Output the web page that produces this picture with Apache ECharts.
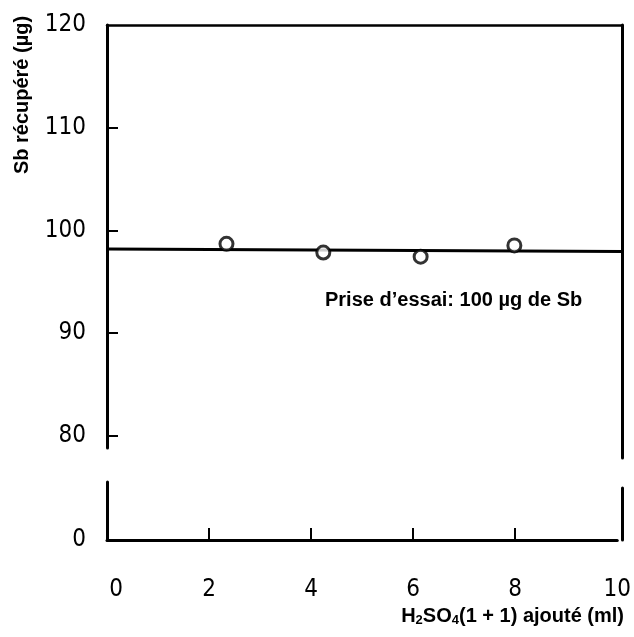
<!DOCTYPE html>
<html>
<head>
<meta charset="utf-8">
<script src="https://cdn.jsdelivr.net/npm/echarts@6/dist/echarts.min.js"></script>
<style>
html,body{margin:0;padding:0;background:#fff;}
#chart{width:634px;height:637px;}
</style>
</head>
<body>
<div id="chart"></div>
<script>
// Data
const acidAdded = [2.32, 4.2, 6.09, 7.91];          // H2SO4 (1+1) ajouté (ml)
const sbRecovered = [98.7, 97.85, 97.45, 98.55];    // Sb récupéré (µg)
const fitLineX = [0, 10];
const fitLineY = [98.2, 97.95];
const yTicksUpper = [80, 90, 100, 110, 120];
const yTicksLower = [0];
const xTicks = [0, 2, 4, 6, 8, 10];

const tickFont = "'Liberation Sans Narrow','DejaVu Sans Condensed','Liberation Sans',sans-serif";
const textFont = "'Liberation Sans',Arial,sans-serif";
const tickSize = 24;

const chart = echarts.init(document.getElementById('chart'), null, {renderer: 'canvas'});

const axisLineStyle = {color: '#000', width: 3};

const option = {
  backgroundColor: '#fff',
  animation: false,
  grid: [
    {left: 107, right: 12, top: 25, height: 423},
    {left: 107, right: 12, top: 482, height: 58},
    {left: 107, right: 12, top: 25, height: 433},
    {left: 107, right: 12, top: 488, height: 52}
  ],
  xAxis: [
    {gridIndex: 0, type: 'value', min: 0, max: 10, position: 'top',
     axisLine: {show: true, lineStyle: {color: '#000', width: 2.5}},
     axisTick: {show: false}, axisLabel: {show: false}, splitLine: {show: false}},
    {gridIndex: 1, type: 'value', min: 0, max: 10, interval: 2, position: 'bottom',
     axisLine: {show: true, lineStyle: axisLineStyle},
     axisTick: {show: true, inside: true, length: 12, lineStyle: {color: '#000', width: 2},
       customValues: [2, 4, 6, 8]},
     axisLabel: {show: true, margin: 38, color: '#000', fontSize: tickSize, fontFamily: tickFont,
       customValues: xTicks,
       formatter: v => v === 0 ? '{z|0}' : String(v),
       rich: {z: {fontSize: tickSize, fontFamily: tickFont, color: '#000', padding: [0, 0, 0, 18]}}},
     splitLine: {show: false}},
    {gridIndex: 2, type: 'value', min: 0, max: 10, show: false},
    {gridIndex: 3, type: 'value', min: 0, max: 10, show: false}
  ],
  yAxis: [
    {gridIndex: 0, type: 'value', min: 78.83, max: 120, position: 'left',
     axisLine: {show: true, onZero: false, lineStyle: axisLineStyle},
     axisTick: {show: true, inside: true, length: 11, lineStyle: {color: '#000', width: 2},
       customValues: [80, 90, 100, 110]},
     axisLabel: {show: true, margin: 21, color: '#000', fontSize: tickSize, fontFamily: tickFont,
       customValues: yTicksUpper},
     splitLine: {show: false}},
    {gridIndex: 1, type: 'value', min: 0, max: 1, position: 'left',
     axisLine: {show: true, onZero: false, lineStyle: axisLineStyle},
     axisTick: {show: false},
     axisLabel: {show: true, margin: 21, color: '#000', fontSize: tickSize, fontFamily: tickFont,
       customValues: yTicksLower},
     splitLine: {show: false}},
    {gridIndex: 2, type: 'value', min: 0, max: 1, position: 'right',
     axisLine: {show: true, onZero: false, lineStyle: axisLineStyle},
     axisTick: {show: false}, axisLabel: {show: false}, splitLine: {show: false}},
    {gridIndex: 3, type: 'value', min: 0, max: 1, position: 'right',
     axisLine: {show: true, onZero: false, lineStyle: axisLineStyle},
     axisTick: {show: false}, axisLabel: {show: false}, splitLine: {show: false}}
  ],
  series: [
    {type: 'line', xAxisIndex: 0, yAxisIndex: 0,
     data: fitLineX.map((x, i) => [x, fitLineY[i]]),
     symbol: 'none', lineStyle: {color: '#000', width: 3}, z: 2},
    {type: 'scatter', xAxisIndex: 0, yAxisIndex: 0,
     data: acidAdded.map((x, i) => [x, sbRecovered[i]]),
     symbol: 'circle', symbolSize: 13,
     itemStyle: {color: '#fff', borderColor: '#000', borderWidth: 3}, z: 3}
  ],
  graphic: [
    {type: 'text', left: 325, top: 290,
     style: {text: 'Prise d\u2019essai: 100 \u00b5g de Sb', fontFamily: textFont, fontSize: 20,
       fontWeight: 'bold', fill: '#000'}},
    {type: 'text', x: 22, y: 95, rotation: Math.PI / 2,
     style: {text: 'Sb r\u00e9cup\u00e9r\u00e9 (\u00b5g)', fontFamily: textFont, fontSize: 20,
       fontWeight: 'bold', fill: '#000', align: 'center', verticalAlign: 'middle'}},
    {type: 'text', right: 10, top: 606,
     style: {text: 'H{s|2}SO{s|4}(1 + 1) ajout\u00e9 (ml)', fontFamily: textFont, fontSize: 20,
       fontWeight: 'bold', fill: '#000',
       rich: {s: {fontSize: 13, fontFamily: textFont, fontWeight: 'bold', fill: '#000',
         verticalAlign: 'bottom', padding: [9, 0, 0, 0]}}}}
  ]
};
chart.setOption(option);
</script>
</body>
</html>
